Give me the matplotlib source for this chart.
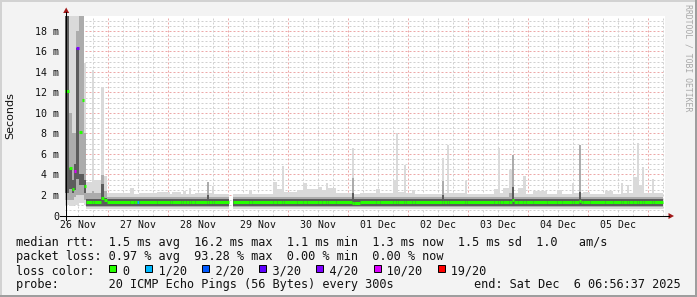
import numpy as np
import matplotlib
matplotlib.use("Agg")
import matplotlib.pyplot as plt
from matplotlib.patches import Rectangle, Polygon
from matplotlib.lines import Line2D

nan = float("nan")

# segment start, in days since 26 Nov 00:00; last segment ends at seg_end
seg_start = [
    0.289, 0.355, 0.400, 0.442, 0.475, 0.517, 0.567, 0.600, 0.642, 0.733,
    0.767, 0.883, 0.933, 0.983, 1.367, 1.433, 1.483, 1.517, 1.817, 2.033,
    2.067, 2.217, 2.250, 2.300, 2.350, 2.383, 2.450, 2.650, 2.683, 2.733,
    2.767, 3.017, 3.089, 3.350, 3.400, 3.750, 3.817, 3.900, 3.933, 4.150,
    4.250, 4.317, 4.500, 4.567, 4.633, 4.667, 4.800, 5.067, 5.100, 5.200,
    5.467, 5.533, 5.750, 5.800, 5.833, 5.933, 5.967, 6.067, 6.117, 6.567,
    6.600, 6.650, 6.683, 6.950, 6.983, 7.433, 7.500, 7.533, 7.583, 7.683,
    7.733, 7.767, 7.833, 7.917, 7.967, 8.083, 8.317, 8.483, 8.567, 8.733,
    8.767, 8.850, 8.883, 8.917, 9.033, 9.283, 9.417, 9.550, 9.583, 9.650,
    9.683, 9.750, 9.817, 9.850, 9.900, 9.933, 10.067, 10.100,
]
seg_end = 10.25

# ping rtt percentiles per segment (ms)
rtt_min = [
    1.0, 0.9, 0.9, 1.0, 1.0, 1.2, 1.2, 1.0, 0.62, 0.62,
    0.62, 0.62, 0.62, 0.62, 0.62, 0.62, 0.62, 0.62, 0.62, 0.62,
    0.62, 0.62, 0.62, 0.62, 0.62, 0.62, 0.62, 0.62, 0.62, 0.62,
    0.62, nan, 0.62, 0.62, 0.62, 0.62, 0.62, 0.62, 0.62, 0.62,
    0.62, 0.62, 0.62, 0.62, 0.62, 0.62, 0.62, 0.62, 0.62, 0.62,
    0.62, 0.62, 0.62, 0.62, 0.62, 0.62, 0.62, 0.62, 0.62, 0.62,
    0.62, 0.62, 0.62, 0.62, 0.62, 0.62, 0.62, 0.62, 0.62, 0.62,
    0.62, 0.62, 0.62, 0.62, 0.62, 0.62, 0.62, 0.62, 0.62, 0.62,
    0.62, 0.62, 0.62, 0.62, 0.62, 0.62, 0.62, 0.62, 0.62, 0.62,
    0.62, 0.62, 0.62, 0.62, 0.62, 0.62, 0.62, 0.62,
]
rtt_p10 = [
    1.5, 1.5, 1.5, 1.8, 2.0, 2.0, 2.0, 1.5, 0.8, 0.8,
    0.8, 0.8, 0.8, 0.8, 0.8, 0.8, 0.8, 0.8, 0.8, 0.8,
    0.8, 0.8, 0.8, 0.8, 0.8, 0.8, 0.8, 0.8, 0.8, 0.8,
    0.8, nan, 0.8, 0.8, 0.8, 0.8, 0.8, 0.8, 0.8, 0.8,
    0.8, 0.8, 0.8, 0.8, 0.8, 0.8, 0.8, 0.8, 0.8, 0.8,
    0.8, 0.8, 0.8, 0.8, 0.8, 0.8, 0.8, 0.8, 0.8, 0.8,
    0.8, 0.8, 0.8, 0.8, 0.8, 0.8, 0.8, 0.8, 0.8, 0.8,
    0.8, 0.8, 0.8, 0.8, 0.8, 0.8, 0.8, 0.8, 0.8, 0.8,
    0.8, 0.8, 0.8, 0.8, 0.8, 0.8, 0.8, 0.8, 0.8, 0.8,
    0.8, 0.8, 0.8, 0.8, 0.8, 0.8, 0.8, 0.8,
]
rtt_p25 = [
    2.2, 2.6, 2.2, 2.5, 3.6, 3.0, 3.0, 2.2, 0.93, 0.93,
    0.93, 0.93, 0.93, 0.93, 0.93, 0.93, 0.93, 0.93, 0.93, 0.93,
    0.93, 0.93, 0.93, 0.93, 0.93, 0.93, 0.93, 0.93, 0.93, 0.93,
    0.93, nan, 0.93, 0.93, 0.93, 0.93, 0.93, 0.93, 0.93, 0.93,
    0.93, 0.93, 0.93, 0.93, 0.93, 0.93, 0.93, 0.93, 0.93, 0.93,
    0.93, 0.93, 0.93, 0.93, 0.93, 0.93, 0.93, 0.93, 0.93, 0.93,
    0.93, 0.93, 0.93, 0.93, 0.93, 0.93, 0.93, 0.93, 0.93, 0.93,
    0.93, 0.93, 0.93, 0.93, 0.93, 0.93, 0.93, 0.93, 0.93, 0.93,
    0.93, 0.93, 0.93, 0.93, 0.93, 0.93, 0.93, 0.93, 0.93, 0.93,
    0.93, 0.93, 0.93, 0.93, 0.93, 0.93, 0.93, 0.93,
]
rtt_median = [
    12.1, 4.6, 2.6, 4.3, 16.3, 8.1, 11.3, 2.9, 1.35, 1.35,
    1.35, 1.7, 1.5, 1.35, 1.35, 1.35, 1.35, 1.35, 1.35, 1.35,
    1.35, 1.35, 1.35, 1.35, 1.35, 1.35, 1.35, 1.35, 1.35, 1.35,
    1.35, nan, 1.35, 1.35, 1.35, 1.35, 1.35, 1.35, 1.35, 1.35,
    1.35, 1.35, 1.35, 1.35, 1.35, 1.35, 1.35, 1.2, 1.2, 1.35,
    1.35, 1.35, 1.35, 1.35, 1.35, 1.35, 1.35, 1.35, 1.35, 1.35,
    1.35, 1.35, 1.35, 1.35, 1.35, 1.35, 1.35, 1.35, 1.35, 1.35,
    1.5, 1.35, 1.35, 1.35, 1.35, 1.35, 1.35, 1.35, 1.35, 1.35,
    1.35, 1.4, 1.35, 1.35, 1.35, 1.35, 1.35, 1.35, 1.35, 1.35,
    1.35, 1.35, 1.35, 1.35, 1.35, 1.35, 1.35, 1.35,
]
rtt_p75 = [
    20, 4.6, 3.5, 5.0, 16.3, 4.0, 4.0, 3.5, 1.6, 1.6,
    1.6, 3.1, 1.7, 1.6, 1.6, 1.6, 1.6, 1.6, 1.6, 1.6,
    1.6, 1.6, 1.6, 1.6, 1.6, 1.6, 1.6, 2.0, 1.6, 1.6,
    1.6, nan, 1.6, 1.6, 1.6, 1.6, 1.6, 1.6, 1.6, 1.6,
    1.6, 1.6, 1.6, 1.6, 1.6, 1.6, 1.6, 2.2, 1.6, 1.6,
    1.6, 1.6, 1.6, 1.6, 1.6, 1.6, 1.6, 1.6, 1.6, 2.0,
    1.6, 1.6, 1.6, 1.6, 1.6, 1.6, 1.6, 1.6, 1.6, 1.6,
    2.8, 1.6, 1.6, 1.6, 1.6, 1.6, 1.6, 1.6, 1.6, 1.6,
    1.6, 2.3, 1.6, 1.6, 1.6, 1.6, 1.6, 1.6, 1.6, 1.6,
    1.6, 1.6, 1.6, 1.6, 1.6, 1.6, 1.6, 1.6,
]
rtt_p90 = [
    20, 10, 8, 8, 18, 20, 20, 8, 2.2, 2.4,
    2.2, 3.9, 2.4, 1.78, 1.78, 1.78, 1.78, 1.78, 1.78, 1.78,
    1.78, 1.78, 1.78, 1.78, 1.78, 1.78, 1.78, 3.3, 1.78, 1.78,
    1.78, nan, 1.78, 1.78, 1.78, 1.78, 1.78, 1.78, 1.78, 1.78,
    1.78, 1.78, 1.78, 1.78, 1.78, 1.78, 1.78, 3.7, 1.78, 1.78,
    1.78, 1.78, 1.78, 1.78, 1.78, 1.78, 1.78, 1.78, 1.78, 3.4,
    1.78, 1.78, 1.78, 1.78, 1.78, 1.78, 1.78, 1.78, 1.78, 2.2,
    5.9, 1.78, 1.78, 1.78, 1.78, 1.78, 1.78, 1.78, 1.78, 1.78,
    1.78, 6.9, 1.78, 1.78, 1.78, 1.78, 1.78, 1.78, 1.78, 1.78,
    1.78, 1.78, 1.78, 1.78, 1.78, 1.78, 1.78, 1.78,
]
rtt_max = [
    20, 20, 20, 20, 20, 20, 20, 14.9, 3.3, 14.2,
    3.5, 12.5, 3.9, 2.2, 2.7, 2.1, 2.1, 2.2, 2.3, 2.1,
    2.3, 2.1, 2.4, 2.1, 2.7, 2.1, 2.2, 3.3, 2.2, 2.9,
    2.1, nan, 2.1, 2.5, 2.1, 3.3, 2.6, 4.8, 2.3, 2.5,
    3.2, 2.6, 2.8, 2.5, 3.2, 2.7, 2.2, 6.6, 2.1, 2.2,
    2.6, 2.2, 3.5, 8.0, 2.3, 4.9, 2.2, 2.5, 2.1, 5.6,
    2.2, 6.9, 2.2, 3.4, 2.1, 2.6, 6.6, 2.2, 2.7, 4.4,
    5.9, 2.2, 2.7, 3.9, 2.1, 2.4, 2.1, 2.5, 2.1, 3.2,
    2.2, 6.9, 2.2, 2.3, 2.1, 2.4, 2.1, 3.2, 2.2, 3.0,
    2.2, 3.8, 7.1, 3.0, 4.7, 2.2, 3.6, 2.2,
]
# lost pings (out of 20) per segment
loss_count = [
    0, 0, 0, 10, 4, 0, 0, 0, 0, 0,
    0, 0, 0, 0, 0, 0, 1, 0, 0, 0,
    0, 0, 0, 0, 0, 0, 0, 0, 0, 0,
    0, 0, 0, 0, 0, 0, 0, 0, 0, 0,
    0, 0, 0, 0, 0, 0, 0, 0, 0, 0,
    0, 0, 0, 0, 0, 0, 0, 0, 0, 0,
    0, 0, 0, 0, 0, 0, 0, 0, 0, 0,
    0, 0, 0, 0, 0, 0, 0, 0, 0, 0,
    0, 0, 0, 0, 0, 0, 0, 0, 0, 0,
    0, 0, 0, 0, 0, 0, 0, 0,
]

loss_levels = [0, 1, 2, 3, 4, 10, 19]
loss_labels = ["0", "1/20", "2/20", "3/20", "4/20", "10/20", "19/20"]
loss_colors = ["#26ff00", "#00b8ff", "#0059ff", "#5e00ff", "#7e00ff", "#dd00ff", "#ff0000"]

day_labels = ["26 Nov", "27 Nov", "28 Nov", "29 Nov", "30 Nov",
              "01 Dec", "02 Dec", "03 Dec", "04 Dec", "05 Dec"]
y_ticks = [0, 2, 4, 6, 8, 10, 12, 14, 16, 18]
y_labels = ["0", "2 m", "4 m", "6 m", "8 m", "10 m", "12 m", "14 m", "16 m", "18 m"]

x_start, x_stop = 0.289, 10.289   # 26 Nov 06:56:37 .. 6 Dec 06:56:37
y_top = 19.5

legend_rtt = "median rtt:  1.5 ms avg  16.2 ms max  1.1 ms min  1.3 ms now  1.5 ms sd  1.0   am/s"
legend_loss = "packet loss: 0.97 % avg  93.28 % max  0.00 % min  0.00 % now"
legend_probe = "probe:       20 ICMP Echo Pings (56 Bytes) every 300s"
legend_end = "end: Sat Dec  6 06:56:37 2025"

W, H = 697, 297
plt.rcParams["font.family"] = "DejaVu Sans Mono"


def fx(px):
    return px / W


def fy(py):
    return 1 - py / H


fig = plt.figure(figsize=(W / 100, H / 100), dpi=100, facecolor="#f3f3f3")

# plot area: x 65.3..665.3 px, y 15.5..215.5 px
ax = fig.add_axes([fx(65.3), fy(215.5), 600 / W, 200 / H])
ax.set_facecolor("white")
ax.set_xlim(x_start, x_stop)
ax.set_ylim(0, y_top)
for s in ax.spines.values():
    s.set_visible(False)

# grid: grey every 30 min / 6 h, red every 2 ms / day
minor_kw = dict(color="#d0d0d0", lw=0.72, ls=(0, (2, 2)), zorder=1)
major_kw = dict(color="#eda8a8", lw=0.72, ls=(0, (2, 2)), zorder=1)
for v in np.arange(0.5, y_top, 0.5):
    ax.axhline(v, **(major_kw if v % 2 == 0 else minor_kw))
for d in np.arange(0.25, x_stop, 0.25):
    if d > x_start:
        ax.axvline(d, **(major_kw if d % 1 == 0 else minor_kw))

# smoke
start = np.array(seg_start)
end = np.append(start[1:], seg_end)
width = end - start
lo = np.array(rtt_min)
p10 = np.array(rtt_p10)
p25 = np.array(rtt_p25)
med = np.array(rtt_median)
p75 = np.array(rtt_p75)
p90 = np.array(rtt_p90)
hi = np.array(rtt_max)
ok = np.isfinite(med)

ax.bar(start[ok], (hi - lo)[ok], width[ok], bottom=lo[ok], align="edge",
       color="#dadada", lw=0, antialiased=False, zorder=2)
ax.bar(start[ok], (p90 - p10)[ok], width[ok], bottom=p10[ok], align="edge",
       color="#acacac", lw=0, antialiased=False, zorder=2)
ax.bar(start[ok], (p75 - p25)[ok], width[ok], bottom=p25[ok], align="edge",
       color="#5c5c5c", lw=0, antialiased=False, zorder=2)

color_of = dict(zip(loss_levels, loss_colors))
seg_colors = [color_of[c] for c in np.array(loss_count)[ok]]
ax.hlines(med[ok], start[ok], end[ok], colors=seg_colors, lw=2.2,
          capstyle="butt", zorder=4)

# ticks
ax.set_yticks(y_ticks)
ax.set_yticklabels(y_labels)
ax.set_xticks(np.arange(len(day_labels)) + 0.5)
ax.set_xticklabels(day_labels)
ax.tick_params(axis="y", length=0, pad=4.2, labelsize=7.2, labelcolor="#111111")
ax.tick_params(axis="x", length=0, pad=3.0, labelsize=7.1, labelcolor="#111111")

# axes lines and arrows
fig.add_artist(Line2D([fx(60), fx(669)], [fy(216), fy(216)], color="black", lw=0.75))
fig.add_artist(Line2D([fx(66), fx(66)], [fy(220), fy(12)], color="black", lw=0.75))
fig.add_artist(Polygon([(fx(66.2), fy(7.5)), (fx(63.2), fy(13)), (fx(69.2), fy(13))],
                       closed=True, color="#a01818", lw=0))
fig.add_artist(Polygon([(fx(674), fy(216)), (fx(668.5), fy(213)), (fx(668.5), fy(219))],
                       closed=True, color="#a01818", lw=0))

# labels
fig.text(fx(10.5), fy(115.5), "Seconds", rotation=90, ha="center", va="center",
         fontsize=8, family="DejaVu Sans", color="#111111")
fig.text(fx(688), fy(4), "RRDTOOL / TOBI OETIKER", rotation=270, ha="center", va="top",
         fontsize=5.9, color="#a8a8a8")

# legend
cw = 7.15
lx = 15.5
fs = 8.55
fig.text(fx(lx), fy(246), legend_rtt, fontsize=fs, va="baseline", color="#111111")
fig.text(fx(lx), fy(260), legend_loss, fontsize=fs, va="baseline", color="#111111")

line3 = "loss color:  "
box_cols = []
for lab in loss_labels:
    box_cols.append(len(line3))
    line3 += "  " + lab + "  "
fig.text(fx(lx), fy(274), line3.rstrip(), fontsize=fs, va="baseline", color="#111111")
for col, c in zip(box_cols, loss_colors):
    fig.add_artist(Rectangle((fx(16 + col * cw), fy(271.5)), 7 / W, 7 / H,
                             facecolor=c, edgecolor="black", lw=0.7))

fig.text(fx(lx), fy(288), legend_probe, fontsize=fs, va="baseline", color="#111111")
fig.text(fx(681), fy(288), legend_end, fontsize=fs, va="baseline", ha="right", color="#111111")

# frame
fig.add_artist(Rectangle((0, 0), fx(1.5), 1, facecolor="#d2d2d2", lw=0))
fig.add_artist(Rectangle((0, fy(1.5)), 1, 1.5 / H, facecolor="#d2d2d2", lw=0))
fig.add_artist(Rectangle((fx(695), 0), 2 / W, 1, facecolor="#9e9e9e", lw=0))
fig.add_artist(Rectangle((0, 0), 1, 2.5 / H, facecolor="#9e9e9e", lw=0))

fig.savefig("out.png", dpi=100, facecolor=fig.get_facecolor())
